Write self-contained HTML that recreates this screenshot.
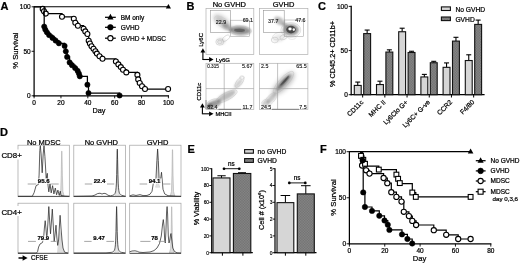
<!DOCTYPE html>
<html><head><meta charset="utf-8"><title>Figure</title>
<style>
html,body{margin:0;padding:0;background:#fff;}
body{width:520px;height:263px;overflow:hidden;font-family:"Liberation Sans",sans-serif;}
svg{display:block;will-change:transform;filter:blur(0.3px);}
text{font-family:"Liberation Sans",sans-serif;}
</style></head><body>
<svg width="520" height="263" viewBox="0 0 520 263">
<defs>
<pattern id="hatch" width="1.6" height="1.6" patternUnits="userSpaceOnUse">
  <rect width="1.6" height="1.6" fill="#6e6e6e"/>
  <rect width="0.8" height="0.8" fill="#8a8a8a"/>
  <rect x="0.8" y="0.8" width="0.8" height="0.8" fill="#8a8a8a"/>
</pattern>
<filter id="b1" x="-50%" y="-50%" width="200%" height="200%"><feGaussianBlur stdDeviation="1.2"/></filter>
<filter id="b2" x="-50%" y="-50%" width="200%" height="200%"><feGaussianBlur stdDeviation="2"/></filter>
<filter id="b05" x="-50%" y="-50%" width="200%" height="200%"><feGaussianBlur stdDeviation="0.6"/></filter>

</defs>
<rect width="520" height="263" fill="#fff"/>
<text x="0.4" y="10.3" font-size="11" text-anchor="start" font-weight="bold" fill="#000" stroke="#000" stroke-width="0.22" >A</text>
<line x1="34.10" y1="6.20" x2="34.10" y2="96.40" stroke="#000" stroke-width="1.25" stroke-linecap="butt"/>
<line x1="33.50" y1="95.80" x2="169.00" y2="95.80" stroke="#000" stroke-width="1.25" stroke-linecap="butt"/>
<line x1="31.60" y1="6.80" x2="34.10" y2="6.80" stroke="#000" stroke-width="0.9" stroke-linecap="butt"/>
<text x="30.700000000000003" y="9.099999999999998" font-size="6.5" text-anchor="end" font-weight="normal" fill="#000" stroke="#000" stroke-width="0.22" >100</text>
<line x1="31.60" y1="51.30" x2="34.10" y2="51.30" stroke="#000" stroke-width="0.9" stroke-linecap="butt"/>
<text x="30.700000000000003" y="53.599999999999994" font-size="6.5" text-anchor="end" font-weight="normal" fill="#000" stroke="#000" stroke-width="0.22" >50</text>
<line x1="31.60" y1="95.80" x2="34.10" y2="95.80" stroke="#000" stroke-width="0.9" stroke-linecap="butt"/>
<text x="30.700000000000003" y="98.1" font-size="6.5" text-anchor="end" font-weight="normal" fill="#000" stroke="#000" stroke-width="0.22" >0</text>
<line x1="34.10" y1="95.80" x2="34.10" y2="98.30" stroke="#000" stroke-width="0.9" stroke-linecap="butt"/>
<text x="34.1" y="104.5" font-size="6.5" text-anchor="middle" font-weight="normal" fill="#000" stroke="#000" stroke-width="0.22" >0</text>
<line x1="60.96" y1="95.80" x2="60.96" y2="98.30" stroke="#000" stroke-width="0.9" stroke-linecap="butt"/>
<text x="60.96" y="104.5" font-size="6.5" text-anchor="middle" font-weight="normal" fill="#000" stroke="#000" stroke-width="0.22" >20</text>
<line x1="87.82" y1="95.80" x2="87.82" y2="98.30" stroke="#000" stroke-width="0.9" stroke-linecap="butt"/>
<text x="87.82" y="104.5" font-size="6.5" text-anchor="middle" font-weight="normal" fill="#000" stroke="#000" stroke-width="0.22" >40</text>
<line x1="114.68" y1="95.80" x2="114.68" y2="98.30" stroke="#000" stroke-width="0.9" stroke-linecap="butt"/>
<text x="114.68" y="104.5" font-size="6.5" text-anchor="middle" font-weight="normal" fill="#000" stroke="#000" stroke-width="0.22" >60</text>
<line x1="141.54" y1="95.80" x2="141.54" y2="98.30" stroke="#000" stroke-width="0.9" stroke-linecap="butt"/>
<text x="141.54" y="104.5" font-size="6.5" text-anchor="middle" font-weight="normal" fill="#000" stroke="#000" stroke-width="0.22" >80</text>
<line x1="168.40" y1="95.80" x2="168.40" y2="98.30" stroke="#000" stroke-width="0.9" stroke-linecap="butt"/>
<text x="168.4" y="104.5" font-size="6.5" text-anchor="middle" font-weight="normal" fill="#000" stroke="#000" stroke-width="0.22" >100</text>
<text x="99.0" y="113.2" font-size="7.3" text-anchor="middle" font-weight="normal" fill="#000" stroke="#000" stroke-width="0.22" >Day</text>
<text x="17.6" y="50.6" font-size="7.7" text-anchor="middle" font-weight="normal" fill="#000" stroke="#000" stroke-width="0.22" transform="rotate(-90 17.6 50.6)" >% Survival</text>
<line x1="34.10" y1="6.80" x2="168.40" y2="6.80" stroke="#000" stroke-width="1.1" stroke-linecap="butt"/>
<path d="M168.4,3.9 L171.0,8.6 L165.8,8.6 Z" fill="#000"/>
<path d="M34.1,6.8 H42.4 V6.8 H42.7 V8.9 H44.0 V11.2 H45.8 V13.6 H62.0 V16.8 H73.8 V18.7 H75.3 V22.7 H77.9 V25.7 H83.6 V28.8 H85.3 V31.4 H87.4 V34.0 H88.7 V40.8 H89.9 V43.5 H91.5 V46.2 H93.5 V48.8 H95.4 V51.3 H96.9 V53.6 H99.5 V56.2 H102.5 V58.8 H115.9 V61.5 H118.4 V64.4 H120.8 V67.1 H123.0 V69.7 H126.3 V72.4 H137.4 V74.9 H138.2 V79.4 H139.7 V83.0 H142.0 V86.2 H145.0 V89.0 H168.1 V89.0" fill="none" stroke="#000" stroke-width="1.25"/>
<circle cx="42.7" cy="8.9" r="2.5" fill="#fff" stroke="#000" stroke-width="1.1"/>
<circle cx="44.0" cy="11.2" r="2.5" fill="#fff" stroke="#000" stroke-width="1.1"/>
<circle cx="45.8" cy="13.6" r="2.5" fill="#fff" stroke="#000" stroke-width="1.1"/>
<circle cx="62.0" cy="16.8" r="2.5" fill="#fff" stroke="#000" stroke-width="1.1"/>
<circle cx="73.8" cy="18.7" r="2.5" fill="#fff" stroke="#000" stroke-width="1.1"/>
<circle cx="75.3" cy="22.7" r="2.5" fill="#fff" stroke="#000" stroke-width="1.1"/>
<circle cx="77.9" cy="25.7" r="2.5" fill="#fff" stroke="#000" stroke-width="1.1"/>
<circle cx="83.6" cy="28.8" r="2.5" fill="#fff" stroke="#000" stroke-width="1.1"/>
<circle cx="85.3" cy="31.4" r="2.5" fill="#fff" stroke="#000" stroke-width="1.1"/>
<circle cx="87.4" cy="34.0" r="2.5" fill="#fff" stroke="#000" stroke-width="1.1"/>
<circle cx="88.7" cy="40.8" r="2.5" fill="#fff" stroke="#000" stroke-width="1.1"/>
<circle cx="89.9" cy="43.5" r="2.5" fill="#fff" stroke="#000" stroke-width="1.1"/>
<circle cx="91.5" cy="46.2" r="2.5" fill="#fff" stroke="#000" stroke-width="1.1"/>
<circle cx="93.5" cy="48.8" r="2.5" fill="#fff" stroke="#000" stroke-width="1.1"/>
<circle cx="95.4" cy="51.3" r="2.5" fill="#fff" stroke="#000" stroke-width="1.1"/>
<circle cx="96.9" cy="53.6" r="2.5" fill="#fff" stroke="#000" stroke-width="1.1"/>
<circle cx="99.5" cy="56.2" r="2.5" fill="#fff" stroke="#000" stroke-width="1.1"/>
<circle cx="102.5" cy="58.8" r="2.5" fill="#fff" stroke="#000" stroke-width="1.1"/>
<circle cx="115.9" cy="61.5" r="2.5" fill="#fff" stroke="#000" stroke-width="1.1"/>
<circle cx="118.4" cy="64.4" r="2.5" fill="#fff" stroke="#000" stroke-width="1.1"/>
<circle cx="120.8" cy="67.1" r="2.5" fill="#fff" stroke="#000" stroke-width="1.1"/>
<circle cx="123.0" cy="69.7" r="2.5" fill="#fff" stroke="#000" stroke-width="1.1"/>
<circle cx="126.3" cy="72.4" r="2.5" fill="#fff" stroke="#000" stroke-width="1.1"/>
<circle cx="137.4" cy="74.9" r="2.5" fill="#fff" stroke="#000" stroke-width="1.1"/>
<circle cx="138.2" cy="79.4" r="2.5" fill="#fff" stroke="#000" stroke-width="1.1"/>
<circle cx="139.7" cy="83.0" r="2.5" fill="#fff" stroke="#000" stroke-width="1.1"/>
<circle cx="142.0" cy="86.2" r="2.5" fill="#fff" stroke="#000" stroke-width="1.1"/>
<circle cx="145.0" cy="89.0" r="2.5" fill="#fff" stroke="#000" stroke-width="1.1"/>
<circle cx="168.1" cy="89.0" r="2.5" fill="#fff" stroke="#000" stroke-width="1.1"/>
<path d="M43.6,6.8 H44.2 V26.6 H45.3 V29.6 H46.9 V32.3 H49.1 V35.1 H52.5 V37.9 H55.6 V40.6 H58.9 V43.3 H64.6 V45.9 H65.8 V51.3 H67.1 V56.9 H69.6 V62.4 H72.0 V65.2 H75.1 V68.0 H77.6 V70.8 H78.9 V73.5 H79.8 V76.3 H87.4 V84.7 H88.5 V93.0 H119.6 V95.5" fill="none" stroke="#000" stroke-width="1.25"/>
<circle cx="44.2" cy="26.6" r="2.6" fill="#000" stroke="#000" stroke-width="0.6"/>
<circle cx="45.3" cy="29.6" r="2.6" fill="#000" stroke="#000" stroke-width="0.6"/>
<circle cx="46.9" cy="32.3" r="2.6" fill="#000" stroke="#000" stroke-width="0.6"/>
<circle cx="49.1" cy="35.1" r="2.6" fill="#000" stroke="#000" stroke-width="0.6"/>
<circle cx="52.5" cy="37.9" r="2.6" fill="#000" stroke="#000" stroke-width="0.6"/>
<circle cx="55.6" cy="40.6" r="2.6" fill="#000" stroke="#000" stroke-width="0.6"/>
<circle cx="58.9" cy="43.3" r="2.6" fill="#000" stroke="#000" stroke-width="0.6"/>
<circle cx="64.6" cy="45.9" r="2.6" fill="#000" stroke="#000" stroke-width="0.6"/>
<circle cx="65.8" cy="51.3" r="2.6" fill="#000" stroke="#000" stroke-width="0.6"/>
<circle cx="67.1" cy="56.9" r="2.6" fill="#000" stroke="#000" stroke-width="0.6"/>
<circle cx="69.6" cy="62.4" r="2.6" fill="#000" stroke="#000" stroke-width="0.6"/>
<circle cx="72.0" cy="65.2" r="2.6" fill="#000" stroke="#000" stroke-width="0.6"/>
<circle cx="75.1" cy="68.0" r="2.6" fill="#000" stroke="#000" stroke-width="0.6"/>
<circle cx="77.6" cy="70.8" r="2.6" fill="#000" stroke="#000" stroke-width="0.6"/>
<circle cx="78.9" cy="73.5" r="2.6" fill="#000" stroke="#000" stroke-width="0.6"/>
<circle cx="79.8" cy="76.3" r="2.6" fill="#000" stroke="#000" stroke-width="0.6"/>
<circle cx="87.4" cy="84.7" r="2.6" fill="#000" stroke="#000" stroke-width="0.6"/>
<circle cx="88.5" cy="93.0" r="2.6" fill="#000" stroke="#000" stroke-width="0.6"/>
<circle cx="119.6" cy="95.5" r="2.6" fill="#000" stroke="#000" stroke-width="0.6"/>
<line x1="105.00" y1="17.30" x2="115.80" y2="17.30" stroke="#000" stroke-width="1.25" stroke-linecap="butt"/>
<path d="M110.4,13.8 L113.5,19.4 L107.3,19.4 Z" fill="#000"/>
<text x="120.7" y="19.8" font-size="6.5" text-anchor="start" font-weight="normal" fill="#000" stroke="#000" stroke-width="0.22" >BM only</text>
<line x1="105.00" y1="27.30" x2="115.80" y2="27.30" stroke="#000" stroke-width="1.25" stroke-linecap="butt"/>
<circle cx="110.4" cy="27.3" r="2.8" fill="#000" stroke="#000" stroke-width="0.6"/>
<text x="120.7" y="29.8" font-size="6.5" text-anchor="start" font-weight="normal" fill="#000" stroke="#000" stroke-width="0.22" >GVHD</text>
<line x1="105.00" y1="38.20" x2="115.80" y2="38.20" stroke="#000" stroke-width="1.25" stroke-linecap="butt"/>
<circle cx="110.4" cy="38.2" r="2.6" fill="#fff" stroke="#000" stroke-width="1.1"/>
<text x="120.7" y="40.7" font-size="6.5" text-anchor="start" font-weight="normal" fill="#000" stroke="#000" stroke-width="0.22" >GVHD + MDSC</text>
<text x="186.4" y="10.0" font-size="11" text-anchor="start" font-weight="bold" fill="#000" stroke="#000" stroke-width="0.22" >B</text>
<text x="229.3" y="6.5" font-size="7.5" text-anchor="middle" font-weight="normal" fill="#000" stroke="#000" stroke-width="0.22" >No GVHD</text>
<text x="283.6" y="6.5" font-size="7.5" text-anchor="middle" font-weight="normal" fill="#000" stroke="#000" stroke-width="0.22" >GVHD</text>
<ellipse cx="240.0" cy="30.5" rx="11.0" ry="4.4" transform="rotate(3 240.0 30.5)" fill="#000" fill-opacity="0.42"  filter="url(#b1)"/>
<ellipse cx="239.5" cy="30.3" rx="5.5" ry="1.8" transform="rotate(3 239.5 30.3)" fill="#000" fill-opacity="0.35"  filter="url(#b05)"/>
<ellipse cx="222.0" cy="21.5" rx="10.0" ry="4.6" transform="rotate(38 222.0 21.5)" fill="#000" fill-opacity="0.24"  filter="url(#b2)"/>
<ellipse cx="227.0" cy="27.0" rx="5.5" ry="3.0" transform="rotate(30 227.0 27.0)" fill="#000" fill-opacity="0.24"  filter="url(#b1)"/>
<ellipse cx="221.0" cy="41.0" rx="4.5" ry="3.5" transform="rotate(0 221.0 41.0)" fill="#000" fill-opacity="0.1"  filter="url(#b1)"/>
<ellipse cx="219.8" cy="42.0" rx="4.0" ry="3.2" transform="rotate(0 219.8 42.0)" fill="none" stroke="#b0b0b0" stroke-width="0.5" stroke-opacity="0.8"/>
<ellipse cx="219.8" cy="42.0" rx="2.2" ry="1.8" transform="rotate(0 219.8 42.0)" fill="none" stroke="#b0b0b0" stroke-width="0.5" stroke-opacity="0.8"/>
<ellipse cx="226.0" cy="38.2" rx="4.2" ry="2.2" transform="rotate(-35 226.0 38.2)" fill="none" stroke="#b0b0b0" stroke-width="0.5" stroke-opacity="0.8"/>
<ellipse cx="240.5" cy="30.6" rx="11.0" ry="4.8" transform="rotate(3 240.5 30.6)" fill="none" stroke="#a0a0a0" stroke-width="0.4" stroke-opacity="0.6"/>
<ellipse cx="222.5" cy="22.5" rx="9.5" ry="4.5" transform="rotate(35 222.5 22.5)" fill="none" stroke="#c0c0c0" stroke-width="0.4" stroke-opacity="0.6"/>
<ellipse cx="290.8" cy="29.8" rx="8.0" ry="5.8" transform="rotate(0 290.8 29.8)" fill="#000" fill-opacity="0.4"  filter="url(#b1)"/>
<ellipse cx="291.0" cy="29.6" rx="4.8" ry="3.8" transform="rotate(0 291.0 29.6)" fill="#000" fill-opacity="0.52"  filter="url(#b05)"/>
<ellipse cx="290.0" cy="29.0" rx="1.7" ry="1.4" transform="rotate(0 290.0 29.0)" fill="#fff" fill-opacity="1"  filter="url(#b05)"/>
<ellipse cx="293.8" cy="29.6" rx="1.2" ry="1.4" transform="rotate(0 293.8 29.6)" fill="#fff" fill-opacity="0.95"  filter="url(#b05)"/>
<ellipse cx="279.5" cy="21.0" rx="6.0" ry="3.4" transform="rotate(35 279.5 21.0)" fill="#000" fill-opacity="0.26"  filter="url(#b1)"/>
<ellipse cx="285.0" cy="25.0" rx="3.0" ry="2.0" transform="rotate(30 285.0 25.0)" fill="#000" fill-opacity="0.25"  filter="url(#b1)"/>
<ellipse cx="279.0" cy="38.0" rx="7.0" ry="4.0" transform="rotate(-15 279.0 38.0)" fill="#000" fill-opacity="0.08"  filter="url(#b1)"/>
<ellipse cx="290.8" cy="30.0" rx="10.0" ry="7.4" transform="rotate(0 290.8 30.0)" fill="none" stroke="#a0a0a0" stroke-width="0.4" stroke-opacity="0.7"/>
<ellipse cx="274.8" cy="40.0" rx="3.5" ry="2.8" transform="rotate(0 274.8 40.0)" fill="none" stroke="#b0b0b0" stroke-width="0.5" stroke-opacity="0.8"/>
<ellipse cx="283.5" cy="37.2" rx="3.8" ry="2.4" transform="rotate(-20 283.5 37.2)" fill="none" stroke="#b0b0b0" stroke-width="0.5" stroke-opacity="0.8"/>
<ellipse cx="279.0" cy="36.0" rx="6.5" ry="3.6" transform="rotate(-15 279.0 36.0)" fill="none" stroke="#c0c0c0" stroke-width="0.4" stroke-opacity="0.8"/>
<ellipse cx="292.0" cy="37.4" rx="4.0" ry="2.0" transform="rotate(0 292.0 37.4)" fill="none" stroke="#c0c0c0" stroke-width="0.4" stroke-opacity="0.8"/>
<ellipse cx="214.0" cy="104.0" rx="7.5" ry="3.6" transform="rotate(-22 214.0 104.0)" fill="#000" fill-opacity="0.4"  filter="url(#b1)"/>
<ellipse cx="209.5" cy="105.5" rx="2.6" ry="2.6" transform="rotate(0 209.5 105.5)" fill="#000" fill-opacity="0.3"  filter="url(#b1)"/>
<ellipse cx="226.5" cy="96.0" rx="10.5" ry="3.4" transform="rotate(-28 226.5 96.0)" fill="#000" fill-opacity="0.26"  filter="url(#b1)"/>
<ellipse cx="238.5" cy="83.5" rx="6.0" ry="2.6" transform="rotate(-50 238.5 83.5)" fill="#000" fill-opacity="0.18"  filter="url(#b1)"/>
<ellipse cx="226.5" cy="96.5" rx="12.0" ry="3.8" transform="rotate(-28 226.5 96.5)" fill="none" stroke="#b0b0b0" stroke-width="0.4" stroke-opacity="0.8"/>
<ellipse cx="239.5" cy="82.0" rx="6.5" ry="2.8" transform="rotate(-52 239.5 82.0)" fill="none" stroke="#b0b0b0" stroke-width="0.4" stroke-opacity="0.8"/>
<ellipse cx="242.0" cy="77.5" rx="2.2" ry="1.8" transform="rotate(0 242.0 77.5)" fill="none" stroke="#b0b0b0" stroke-width="0.4" stroke-opacity="0.8"/>
<ellipse cx="213.0" cy="104.0" rx="8.0" ry="4.5" transform="rotate(-25 213.0 104.0)" fill="none" stroke="#b0b0b0" stroke-width="0.4" stroke-opacity="0.8"/>
<ellipse cx="283.5" cy="83.5" rx="15.0" ry="5.5" transform="rotate(-46 283.5 83.5)" fill="#000" fill-opacity="0.24"  filter="url(#b2)"/>
<ellipse cx="283.5" cy="82.5" rx="10.5" ry="2.2" transform="rotate(-48 283.5 82.5)" fill="#000" fill-opacity="0.4"  filter="url(#b1)"/>
<ellipse cx="284.7" cy="80.8" rx="6.5" ry="1.1" transform="rotate(-48 284.7 80.8)" fill="#000" fill-opacity="0.4"  filter="url(#b05)"/>
<ellipse cx="271.5" cy="98.0" rx="7.0" ry="3.0" transform="rotate(-48 271.5 98.0)" fill="#000" fill-opacity="0.22"  filter="url(#b1)"/>
<ellipse cx="266.0" cy="103.0" rx="4.0" ry="3.0" transform="rotate(-30 266.0 103.0)" fill="#000" fill-opacity="0.18"  filter="url(#b1)"/>
<ellipse cx="283.5" cy="82.5" rx="14.5" ry="4.6" transform="rotate(-48 283.5 82.5)" fill="none" stroke="#b0b0b0" stroke-width="0.4" stroke-opacity="0.8"/>
<ellipse cx="270.5" cy="99.5" rx="9.0" ry="3.8" transform="rotate(-48 270.5 99.5)" fill="none" stroke="#bbbbbb" stroke-width="0.4" stroke-opacity="0.8"/>
<ellipse cx="265.5" cy="102.5" rx="4.0" ry="3.0" transform="rotate(-30 265.5 102.5)" fill="none" stroke="#c0c0c0" stroke-width="0.4" stroke-opacity="0.8"/>
<rect x="206.00" y="8.40" width="47.80" height="46.20" fill="none" stroke="#b0b0b0" stroke-width="0.7" />
<rect x="206.00" y="63.30" width="47.80" height="46.20" fill="none" stroke="#b0b0b0" stroke-width="0.7" />
<rect x="259.60" y="8.40" width="48.30" height="46.20" fill="none" stroke="#b0b0b0" stroke-width="0.7" />
<rect x="259.60" y="63.30" width="48.30" height="46.20" fill="none" stroke="#b0b0b0" stroke-width="0.7" />
<rect x="210.60" y="10.60" width="19.80" height="21.70" fill="none" stroke="#8c8c8c" stroke-width="0.55" />
<rect x="230.40" y="20.20" width="18.90" height="16.20" fill="none" stroke="#a0a0a0" stroke-width="0.55" />
<rect x="263.70" y="10.60" width="20.50" height="21.70" fill="none" stroke="#8c8c8c" stroke-width="0.55" />
<rect x="284.20" y="20.00" width="19.10" height="16.40" fill="none" stroke="#a0a0a0" stroke-width="0.55" />
<line x1="224.20" y1="63.30" x2="224.20" y2="109.50" stroke="#999" stroke-width="0.6" stroke-linecap="butt"/>
<line x1="206.00" y1="88.60" x2="253.80" y2="88.60" stroke="#999" stroke-width="0.6" stroke-linecap="butt"/>
<line x1="277.60" y1="63.30" x2="277.60" y2="109.50" stroke="#999" stroke-width="0.6" stroke-linecap="butt"/>
<line x1="259.60" y1="88.60" x2="307.90" y2="88.60" stroke="#999" stroke-width="0.6" stroke-linecap="butt"/>
<line x1="218.50" y1="109.30" x2="241.00" y2="109.30" stroke="#666" stroke-width="0.9" stroke-linecap="butt"/>
<line x1="272.00" y1="109.30" x2="299.00" y2="109.30" stroke="#777" stroke-width="0.9" stroke-linecap="butt"/>
<line x1="206.00" y1="100.00" x2="206.00" y2="109.00" stroke="#888" stroke-width="0.9" stroke-linecap="butt"/>
<text x="221.0" y="24.2" font-size="5.3" text-anchor="middle" font-weight="normal" fill="#111" stroke="#111" stroke-width="0.12" >22.9</text>
<text x="247.8" y="21.7" font-size="5.3" text-anchor="middle" font-weight="normal" fill="#111" stroke="#111" stroke-width="0.12" >69.1</text>
<text x="273.2" y="23.2" font-size="5.3" text-anchor="middle" font-weight="normal" fill="#111" stroke="#111" stroke-width="0.12" >37.7</text>
<text x="300.4" y="22.1" font-size="5.3" text-anchor="middle" font-weight="normal" fill="#111" stroke="#111" stroke-width="0.12" >47.6</text>
<text x="207.2" y="67.8" font-size="4.7" text-anchor="start" font-weight="normal" fill="#111" stroke="#111" stroke-width="0.12" >0.315</text>
<text x="252.4" y="67.8" font-size="5.3" text-anchor="end" font-weight="normal" fill="#111" stroke="#111" stroke-width="0.12" >5.67</text>
<text x="207.2" y="109.0" font-size="5.3" text-anchor="start" font-weight="normal" fill="#111" stroke="#111" stroke-width="0.12" >82.4</text>
<text x="252.4" y="109.0" font-size="5.3" text-anchor="end" font-weight="normal" fill="#111" stroke="#111" stroke-width="0.12" >11.7</text>
<text x="261.0" y="67.8" font-size="5.3" text-anchor="start" font-weight="normal" fill="#111" stroke="#111" stroke-width="0.12" >2.5</text>
<text x="306.6" y="67.8" font-size="5.3" text-anchor="end" font-weight="normal" fill="#111" stroke="#111" stroke-width="0.12" >65.5</text>
<text x="261.0" y="109.0" font-size="5.3" text-anchor="start" font-weight="normal" fill="#111" stroke="#111" stroke-width="0.12" >24.5</text>
<text x="306.6" y="109.0" font-size="5.3" text-anchor="end" font-weight="normal" fill="#111" stroke="#111" stroke-width="0.12" >7.5</text>
<line x1="202.90" y1="59.50" x2="202.90" y2="51.90" stroke="#000" stroke-width="1.1" stroke-linecap="butt"/>
<line x1="202.40" y1="59.50" x2="209.80" y2="59.50" stroke="#000" stroke-width="1.1" stroke-linecap="butt"/>
<path d="M200.5,52.6 L202.9,48.199999999999996 L205.3,52.6 Z" fill="#000" stroke="none" stroke-width="0" />
<path d="M209.10000000000002,57.1 L213.5,59.5 L209.10000000000002,61.9 Z" fill="#000" stroke="none" stroke-width="0" />
<line x1="202.40" y1="113.80" x2="202.40" y2="106.90" stroke="#000" stroke-width="1.1" stroke-linecap="butt"/>
<line x1="201.90" y1="113.80" x2="209.80" y2="113.80" stroke="#000" stroke-width="1.1" stroke-linecap="butt"/>
<path d="M200.0,107.60000000000001 L202.4,103.2 L204.8,107.60000000000001 Z" fill="#000" stroke="none" stroke-width="0" />
<path d="M209.10000000000002,111.39999999999999 L213.5,113.8 L209.10000000000002,116.2 Z" fill="#000" stroke="none" stroke-width="0" />
<text x="215.8" y="62.0" font-size="6.0" text-anchor="start" font-weight="normal" fill="#000" stroke="#000" stroke-width="0.22" >Ly6G</text>
<text x="215.4" y="116.0" font-size="5.7" text-anchor="start" font-weight="normal" fill="#000" stroke="#000" stroke-width="0.22" >MHCII</text>
<text x="202.6" y="46.8" font-size="6.0" text-anchor="start" font-weight="normal" fill="#000" stroke="#000" stroke-width="0.22" transform="rotate(-90 202.6 46.8)" >Ly6C</text>
<text x="201.4" y="100.6" font-size="6.0" text-anchor="start" font-weight="normal" fill="#000" stroke="#000" stroke-width="0.22" transform="rotate(-90 201.4 100.6)" >CD11c</text>
<text x="318.0" y="10.0" font-size="11" text-anchor="start" font-weight="bold" fill="#000" stroke="#000" stroke-width="0.22" >C</text>
<line x1="351.20" y1="5.80" x2="351.20" y2="95.30" stroke="#000" stroke-width="1.25" stroke-linecap="butt"/>
<line x1="350.60" y1="94.70" x2="484.60" y2="94.70" stroke="#000" stroke-width="1.25" stroke-linecap="butt"/>
<line x1="348.70" y1="6.40" x2="351.20" y2="6.40" stroke="#000" stroke-width="0.9" stroke-linecap="butt"/>
<text x="347.8" y="8.700000000000006" font-size="6.5" text-anchor="end" font-weight="normal" fill="#000" stroke="#000" stroke-width="0.22" >100</text>
<line x1="348.70" y1="50.55" x2="351.20" y2="50.55" stroke="#000" stroke-width="0.9" stroke-linecap="butt"/>
<text x="347.8" y="52.85" font-size="6.5" text-anchor="end" font-weight="normal" fill="#000" stroke="#000" stroke-width="0.22" >50</text>
<line x1="348.70" y1="94.70" x2="351.20" y2="94.70" stroke="#000" stroke-width="0.9" stroke-linecap="butt"/>
<text x="347.8" y="97.0" font-size="6.5" text-anchor="end" font-weight="normal" fill="#000" stroke="#000" stroke-width="0.22" >0</text>
<text x="335.2" y="54.0" font-size="7.3" text-anchor="middle" font-weight="normal" fill="#000" stroke="#000" stroke-width="0.22" transform="rotate(-90 335.2 54.0)" >% CD45.2+ CD11b+</text>
<line x1="357.75" y1="85.43" x2="357.75" y2="82.07" stroke="#000" stroke-width="1.1" stroke-linecap="butt"/>
<line x1="355.25" y1="82.07" x2="360.25" y2="82.07" stroke="#000" stroke-width="1.1" stroke-linecap="butt"/>
<line x1="367.15" y1="33.60" x2="367.15" y2="30.06" stroke="#000" stroke-width="1.1" stroke-linecap="butt"/>
<line x1="364.65" y1="30.06" x2="369.65" y2="30.06" stroke="#000" stroke-width="1.1" stroke-linecap="butt"/>
<rect x="354.30" y="85.43" width="6.90" height="9.27" fill="#d6d6d6" stroke="#111" stroke-width="1.1" />
<rect x="363.70" y="33.60" width="6.90" height="61.10" fill="url(#hatch)" stroke="#111" stroke-width="1.1" />
<line x1="362.65" y1="94.70" x2="362.65" y2="97.50" stroke="#000" stroke-width="1.0" stroke-linecap="butt"/>
<text x="363.84999999999997" y="102.7" font-size="6.7" text-anchor="end" font-weight="normal" fill="#000" stroke="#000" stroke-width="0.22" transform="rotate(-45 363.84999999999997 102.7)" >CD11c</text>
<line x1="379.95" y1="84.55" x2="379.95" y2="81.19" stroke="#000" stroke-width="1.1" stroke-linecap="butt"/>
<line x1="377.45" y1="81.19" x2="382.45" y2="81.19" stroke="#000" stroke-width="1.1" stroke-linecap="butt"/>
<line x1="389.35" y1="52.05" x2="389.35" y2="49.84" stroke="#000" stroke-width="1.1" stroke-linecap="butt"/>
<line x1="386.85" y1="49.84" x2="391.85" y2="49.84" stroke="#000" stroke-width="1.1" stroke-linecap="butt"/>
<rect x="376.50" y="84.55" width="6.90" height="10.15" fill="#d6d6d6" stroke="#111" stroke-width="1.1" />
<rect x="385.90" y="52.05" width="6.90" height="42.65" fill="url(#hatch)" stroke="#111" stroke-width="1.1" />
<line x1="384.85" y1="94.70" x2="384.85" y2="97.50" stroke="#000" stroke-width="1.0" stroke-linecap="butt"/>
<text x="386.04999999999995" y="102.7" font-size="6.7" text-anchor="end" font-weight="normal" fill="#000" stroke="#000" stroke-width="0.22" transform="rotate(-45 386.04999999999995 102.7)" >MHC II</text>
<line x1="402.15" y1="31.74" x2="402.15" y2="28.21" stroke="#000" stroke-width="1.1" stroke-linecap="butt"/>
<line x1="399.65" y1="28.21" x2="404.65" y2="28.21" stroke="#000" stroke-width="1.1" stroke-linecap="butt"/>
<line x1="411.55" y1="52.49" x2="411.55" y2="51.26" stroke="#000" stroke-width="1.1" stroke-linecap="butt"/>
<line x1="409.05" y1="51.26" x2="414.05" y2="51.26" stroke="#000" stroke-width="1.1" stroke-linecap="butt"/>
<rect x="398.70" y="31.74" width="6.90" height="62.96" fill="#d6d6d6" stroke="#111" stroke-width="1.1" />
<rect x="408.10" y="52.49" width="6.90" height="42.21" fill="url(#hatch)" stroke="#111" stroke-width="1.1" />
<line x1="407.05" y1="94.70" x2="407.05" y2="97.50" stroke="#000" stroke-width="1.0" stroke-linecap="butt"/>
<text x="408.24999999999994" y="102.7" font-size="6.7" text-anchor="end" font-weight="normal" fill="#000" stroke="#000" stroke-width="0.22" transform="rotate(-45 408.24999999999994 102.7)" >Ly6Clo G+</text>
<line x1="424.35" y1="76.95" x2="424.35" y2="74.39" stroke="#000" stroke-width="1.1" stroke-linecap="butt"/>
<line x1="421.85" y1="74.39" x2="426.85" y2="74.39" stroke="#000" stroke-width="1.1" stroke-linecap="butt"/>
<line x1="433.75" y1="62.74" x2="433.75" y2="61.32" stroke="#000" stroke-width="1.1" stroke-linecap="butt"/>
<line x1="431.25" y1="61.32" x2="436.25" y2="61.32" stroke="#000" stroke-width="1.1" stroke-linecap="butt"/>
<rect x="420.90" y="76.95" width="6.90" height="17.75" fill="#d6d6d6" stroke="#111" stroke-width="1.1" />
<rect x="430.30" y="62.74" width="6.90" height="31.96" fill="url(#hatch)" stroke="#111" stroke-width="1.1" />
<line x1="429.25" y1="94.70" x2="429.25" y2="97.50" stroke="#000" stroke-width="1.0" stroke-linecap="butt"/>
<text x="430.44999999999993" y="102.7" font-size="6.7" text-anchor="end" font-weight="normal" fill="#000" stroke="#000" stroke-width="0.22" transform="rotate(-45 430.44999999999993 102.7)" >Ly6C+ G-ve</text>
<line x1="446.55" y1="67.33" x2="446.55" y2="62.91" stroke="#000" stroke-width="1.1" stroke-linecap="butt"/>
<line x1="444.05" y1="62.91" x2="449.05" y2="62.91" stroke="#000" stroke-width="1.1" stroke-linecap="butt"/>
<line x1="455.95" y1="41.10" x2="455.95" y2="37.30" stroke="#000" stroke-width="1.1" stroke-linecap="butt"/>
<line x1="453.45" y1="37.30" x2="458.45" y2="37.30" stroke="#000" stroke-width="1.1" stroke-linecap="butt"/>
<rect x="443.10" y="67.33" width="6.90" height="27.37" fill="#d6d6d6" stroke="#111" stroke-width="1.1" />
<rect x="452.50" y="41.10" width="6.90" height="53.60" fill="url(#hatch)" stroke="#111" stroke-width="1.1" />
<line x1="451.45" y1="94.70" x2="451.45" y2="97.50" stroke="#000" stroke-width="1.0" stroke-linecap="butt"/>
<text x="452.65" y="102.7" font-size="6.7" text-anchor="end" font-weight="normal" fill="#000" stroke="#000" stroke-width="0.22" transform="rotate(-45 452.65 102.7)" >CCR2</text>
<line x1="468.75" y1="60.53" x2="468.75" y2="54.79" stroke="#000" stroke-width="1.1" stroke-linecap="butt"/>
<line x1="466.25" y1="54.79" x2="471.25" y2="54.79" stroke="#000" stroke-width="1.1" stroke-linecap="butt"/>
<line x1="478.15" y1="24.41" x2="478.15" y2="20.09" stroke="#000" stroke-width="1.1" stroke-linecap="butt"/>
<line x1="475.65" y1="20.09" x2="480.65" y2="20.09" stroke="#000" stroke-width="1.1" stroke-linecap="butt"/>
<rect x="465.30" y="60.53" width="6.90" height="34.17" fill="#d6d6d6" stroke="#111" stroke-width="1.1" />
<rect x="474.70" y="24.41" width="6.90" height="70.29" fill="url(#hatch)" stroke="#111" stroke-width="1.1" />
<line x1="473.65" y1="94.70" x2="473.65" y2="97.50" stroke="#000" stroke-width="1.0" stroke-linecap="butt"/>
<text x="474.84999999999997" y="102.7" font-size="6.7" text-anchor="end" font-weight="normal" fill="#000" stroke="#000" stroke-width="0.22" transform="rotate(-45 474.84999999999997 102.7)" >F4/80</text>
<rect x="441.40" y="6.90" width="9.00" height="3.60" fill="#d6d6d6" stroke="#111" stroke-width="1.1" />
<text x="455.4" y="11.5" font-size="6.7" text-anchor="start" font-weight="normal" fill="#000" stroke="#000" stroke-width="0.22" >No GVHD</text>
<rect x="441.40" y="17.00" width="9.00" height="3.60" fill="url(#hatch)" stroke="#111" stroke-width="1.1" />
<text x="455.4" y="21.8" font-size="6.7" text-anchor="start" font-weight="normal" fill="#000" stroke="#000" stroke-width="0.22" >GVHD</text>
<text x="0.1" y="135.9" font-size="11" text-anchor="start" font-weight="bold" fill="#000" stroke="#000" stroke-width="0.22" >D</text>
<rect x="18.00" y="145.20" width="51.30" height="51.50" fill="none" stroke="#a0a0a0" stroke-width="0.7" />
<rect x="73.80" y="145.20" width="51.80" height="51.50" fill="none" stroke="#a0a0a0" stroke-width="0.7" />
<rect x="129.70" y="145.20" width="51.30" height="51.50" fill="none" stroke="#a0a0a0" stroke-width="0.7" />
<rect x="18.00" y="203.20" width="50.20" height="50.40" fill="none" stroke="#a0a0a0" stroke-width="0.7" />
<rect x="73.80" y="203.20" width="51.60" height="50.40" fill="none" stroke="#a0a0a0" stroke-width="0.7" />
<rect x="129.70" y="203.20" width="51.30" height="50.40" fill="none" stroke="#a0a0a0" stroke-width="0.7" />
<rect x="0.00" y="149.50" width="23.00" height="10.00" fill="#fff" stroke="none" stroke-width="0" />
<rect x="0.00" y="206.00" width="23.00" height="10.00" fill="#fff" stroke="none" stroke-width="0" />
<text x="43.8" y="144.9" font-size="7.5" text-anchor="middle" font-weight="normal" fill="#000" stroke="#000" stroke-width="0.22" >No MDSC</text>
<text x="101.3" y="144.9" font-size="7.5" text-anchor="middle" font-weight="normal" fill="#000" stroke="#000" stroke-width="0.22" >No GVHD</text>
<text x="157.6" y="144.9" font-size="7.5" text-anchor="middle" font-weight="normal" fill="#000" stroke="#000" stroke-width="0.22" >GVHD</text>
<text x="1.4" y="157.7" font-size="7.9" text-anchor="start" font-weight="normal" fill="#000" stroke="#000" stroke-width="0.22" >CD8+</text>
<text x="1.4" y="214.5" font-size="7.9" text-anchor="start" font-weight="normal" fill="#000" stroke="#000" stroke-width="0.22" >CD4+</text>
<g transform="translate(0 145.7) scale(1 1.0305) translate(0 -145.7)">
<path d="M59.40,194.6 L60.70,190.2 L61.20,175.0 L61.65,151.0 L61.95,151.0 L62.40,175.0 L62.90,190.2 L64.20,194.6 Z" fill="#dcdcdc" stroke="#a8a8a8" stroke-width="0.55" stroke-linejoin="round"/>
<path d="M18.0,194.8 L32.3,194.8 L34.1,191.3 L36.1,184.5 L38.4,183.3 L39.1,174.2 L39.8,150.3 L40.3,145.7 L41.1,153.7 L42.2,172.0 L43.2,153.7 L44.0,145.7 L44.9,156.0 L46.2,177.6 L47.3,172.5 L48.0,184.0 L48.8,190.5 L50.0,182.5 L51.2,191.5 L52.6,184.5 L53.9,192.5 L55.3,186.8 L56.6,193.3 L57.9,188.8 L59.2,193.8 L60.3,189.8 L61.0,194.0 L64.5,194.6 L69.2,194.8" fill="none" stroke="#2a2a2a" stroke-width="0.75" stroke-linejoin="round"/>
<path d="M115.14,194.6 L116.31,190.2 L116.76,175.0 L117.16,151.0 L117.44,151.0 L117.84,175.0 L118.29,190.2 L119.46,194.6 Z" fill="#e6e6e6" stroke="#c8c8c8" stroke-width="0.55" stroke-linejoin="round"/>
<path d="M73.8,194.8 L92.0,194.5 L95.0,193.6 L97.5,192.2 L100.0,191.8 L102.0,192.6 L104.0,191.9 L106.0,192.3 L108.0,193.8 L110.5,194.4 L112.5,193.9 L112.8,193.8 L113.1,193.7 L113.4,193.6 L113.7,193.4 L114.0,193.3 L114.3,193.0 L114.6,192.7 L114.9,192.2 L115.2,191.5 L115.5,190.6 L115.8,189.0 L116.1,186.5 L116.4,182.0 L116.7,173.6 L117.0,159.3 L117.3,149.0 L117.6,159.3 L117.9,173.6 L118.2,182.0 L118.5,186.5 L118.8,189.0 L119.1,190.6 L119.4,191.5 L119.7,192.2 L120.0,192.7 L120.3,193.0 L120.6,193.3 L120.9,193.4 L121.2,193.6 L121.5,193.7 L121.8,193.8 L122.0,193.9 L125.4,194.8" fill="none" stroke="#2a2a2a" stroke-width="0.75" stroke-linejoin="round"/>
<path d="M170.22,194.6 L171.46,190.1 L171.93,174.3 L172.36,149.6 L172.64,149.6 L173.07,174.3 L173.54,190.1 L174.78,194.6 Z" fill="#dcdcdc" stroke="#a8a8a8" stroke-width="0.55" stroke-linejoin="round"/>
<path d="M155.44,186.0 L156.61,182.5 L157.06,170.2 L157.47,151.0 L157.73,151.0 L158.14,170.2 L158.59,182.5 L159.76,186.0 Z" fill="#e2e2e2" stroke="#cfcfcf" stroke-width="0.55" stroke-linejoin="round"/>
<path d="M129.7,194.3 L133.0,193.4 L136.0,194.0 L140.0,193.2 L143.0,194.1 L147.0,194.0 L150.0,192.8 L152.0,190.0 L153.2,183.0 L153.8,178.5 L154.6,181.5 L156.0,177.0 L156.9,160.0 L157.6,148.9 L158.3,160.0 L159.1,178.0 L160.0,181.0 L160.9,176.0 L161.5,171.5 L162.1,178.0 L163.0,188.0 L164.7,192.5 L168.0,194.2 L176.0,194.7 L181.0,194.8" fill="none" stroke="#2a2a2a" stroke-width="0.75" stroke-linejoin="round"/>
</g>
<line x1="27.70" y1="184.00" x2="36.30" y2="184.00" stroke="#909090" stroke-width="0.8" stroke-linecap="butt"/>
<line x1="51.10" y1="184.00" x2="58.70" y2="184.00" stroke="#909090" stroke-width="0.8" stroke-linecap="butt"/>
<rect x="36.70" y="178.40" width="14.00" height="5.40" fill="#fff" stroke="none" stroke-width="0" fill-opacity="0.8"/>
<text x="43.7" y="182.9" font-size="6.0" text-anchor="middle" font-weight="bold" fill="#000" stroke="#000" stroke-width="0.2" >95.6</text>
<line x1="84.80" y1="184.00" x2="92.20" y2="184.00" stroke="#909090" stroke-width="0.8" stroke-linecap="butt"/>
<line x1="107.00" y1="184.00" x2="114.20" y2="184.00" stroke="#909090" stroke-width="0.8" stroke-linecap="butt"/>
<rect x="92.60" y="178.40" width="14.00" height="5.40" fill="#fff" stroke="none" stroke-width="0" fill-opacity="0.8"/>
<text x="99.6" y="182.9" font-size="6.0" text-anchor="middle" font-weight="bold" fill="#000" stroke="#000" stroke-width="0.2" >22.4</text>
<line x1="139.60" y1="184.00" x2="147.20" y2="184.00" stroke="#909090" stroke-width="0.8" stroke-linecap="butt"/>
<line x1="162.00" y1="184.00" x2="170.40" y2="184.00" stroke="#909090" stroke-width="0.8" stroke-linecap="butt"/>
<rect x="147.60" y="178.40" width="14.00" height="5.40" fill="#fff" stroke="none" stroke-width="0" fill-opacity="0.8"/>
<text x="154.6" y="182.9" font-size="6.0" text-anchor="middle" font-weight="bold" fill="#000" stroke="#000" stroke-width="0.2" >94.1</text>
<path d="M57.7,245.4 L58.6,240 L59.1,234 L60.1,230 L61.2,234 L62.0,240 L63.0,248 L64.6,252.2 L66.5,253.0 L57.0,253.0 Z" fill="#dcdcdc" stroke="none" stroke-width="0" />
<path d="M18.0,253.0 L36.5,253.0 L37.6,251.5 L38.6,247.0 L40.0,244.0 L42.4,242.6 L43.6,238.0 L44.4,228.0 L45.2,220.7 L45.9,228.0 L46.8,239.0 L47.8,225.0 L48.8,206.6 L49.6,220.0 L50.5,233.8 L51.4,222.0 L52.3,209.1 L53.3,226.0 L54.2,241.5 L55.1,234.0 L56.0,225.2 L56.8,237.0 L57.7,245.4 L58.6,240.0 L59.3,228.0 L60.1,215.3 L61.0,228.0 L62.0,240.0 L63.0,248.0 L64.6,252.2 L68.2,253.0" fill="none" stroke="#2a2a2a" stroke-width="0.75" stroke-linejoin="round"/>
<line x1="28.00" y1="241.40" x2="35.90" y2="241.40" stroke="#909090" stroke-width="0.8" stroke-linecap="butt"/>
<line x1="50.70" y1="241.40" x2="56.40" y2="241.40" stroke="#909090" stroke-width="0.8" stroke-linecap="butt"/>
<rect x="36.30" y="235.80" width="14.00" height="5.40" fill="#fff" stroke="none" stroke-width="0" fill-opacity="0.8"/>
<text x="43.3" y="240.3" font-size="6.0" text-anchor="middle" font-weight="bold" fill="#000" stroke="#000" stroke-width="0.2" >79.9</text>
<path d="M114.44,253.0 L115.61,248.6 L116.06,233.2 L116.46,209.0 L116.73,209.0 L117.14,233.2 L117.59,248.6 L118.76,253.0 Z" fill="#e6e6e6" stroke="#c8c8c8" stroke-width="0.55" stroke-linejoin="round"/>
<path d="M73.8,253.0 L106.0,252.9 L110.0,252.5 L111.8,252.3 L112.1,252.2 L112.4,252.1 L112.7,252.0 L113.0,251.8 L113.3,251.6 L113.6,251.4 L113.9,251.0 L114.2,250.6 L114.5,249.9 L114.8,248.9 L115.1,247.3 L115.4,244.8 L115.7,240.2 L116.0,231.6 L116.3,217.1 L116.6,206.6 L116.9,217.1 L117.2,231.6 L117.5,240.2 L117.8,244.8 L118.1,247.3 L118.4,248.9 L118.7,249.9 L119.0,250.6 L119.3,251.0 L119.6,251.4 L119.9,251.6 L120.2,251.8 L120.5,252.0 L120.8,252.1 L121.1,252.2 L121.3,252.3 L125.4,253.0" fill="none" stroke="#2a2a2a" stroke-width="0.75" stroke-linejoin="round"/>
<line x1="84.20" y1="241.40" x2="91.60" y2="241.40" stroke="#909090" stroke-width="0.8" stroke-linecap="butt"/>
<line x1="106.40" y1="241.40" x2="114.00" y2="241.40" stroke="#909090" stroke-width="0.8" stroke-linecap="butt"/>
<rect x="92.00" y="235.80" width="14.00" height="5.40" fill="#fff" stroke="none" stroke-width="0" fill-opacity="0.8"/>
<text x="99.0" y="240.3" font-size="6.0" text-anchor="middle" font-weight="bold" fill="#000" stroke="#000" stroke-width="0.2" >9.47</text>
<path d="M169.42,253.0 L170.66,248.4 L171.13,232.2 L171.56,206.8 L171.84,206.8 L172.27,232.2 L172.74,248.4 L173.98,253.0 Z" fill="#dcdcdc" stroke="#a8a8a8" stroke-width="0.55" stroke-linejoin="round"/>
<path d="M129.7,251.8 L132.0,251.0 L135.0,250.8 L137.5,251.4 L139.0,252.2 L143.0,252.5 L150.0,252.0 L154.0,250.6 L157.0,248.0 L159.5,243.5 L161.3,236.0 L162.6,224.0 L163.3,219.6 L164.0,226.0 L164.7,240.0 L165.3,243.0 L165.9,232.0 L166.6,212.0 L167.1,206.6 L167.6,214.0 L168.3,236.0 L169.0,243.0 L169.8,240.0 L170.5,235.0 L171.0,233.5 L171.8,240.0 L172.8,248.0 L174.5,251.5 L177.0,252.8 L181.0,253.0" fill="none" stroke="#2a2a2a" stroke-width="0.75" stroke-linejoin="round"/>
<line x1="140.30" y1="241.40" x2="150.50" y2="241.40" stroke="#909090" stroke-width="0.8" stroke-linecap="butt"/>
<line x1="158.70" y1="241.40" x2="165.60" y2="241.40" stroke="#909090" stroke-width="0.8" stroke-linecap="butt"/>
<rect x="150.90" y="235.80" width="7.40" height="5.40" fill="#fff" stroke="none" stroke-width="0" fill-opacity="0.8"/>
<text x="154.6" y="240.3" font-size="6.0" text-anchor="middle" font-weight="bold" fill="#000" stroke="#000" stroke-width="0.2" >78</text>
<line x1="18.00" y1="196.40" x2="69.30" y2="196.40" stroke="#333" stroke-width="0.8" stroke-linecap="butt"/>
<line x1="73.80" y1="196.40" x2="125.60" y2="196.40" stroke="#333" stroke-width="0.8" stroke-linecap="butt"/>
<line x1="129.70" y1="196.40" x2="181.00" y2="196.40" stroke="#333" stroke-width="0.8" stroke-linecap="butt"/>
<line x1="18.00" y1="253.30" x2="68.20" y2="253.30" stroke="#333" stroke-width="0.8" stroke-linecap="butt"/>
<line x1="73.80" y1="253.30" x2="125.40" y2="253.30" stroke="#333" stroke-width="0.8" stroke-linecap="butt"/>
<line x1="129.70" y1="253.30" x2="181.00" y2="253.30" stroke="#333" stroke-width="0.8" stroke-linecap="butt"/>
<line x1="18.50" y1="258.00" x2="24.00" y2="258.00" stroke="#000" stroke-width="1.5" stroke-linecap="butt"/>
<path d="M22.6,255.2 L27.6,258.0 L22.6,260.8 Z" fill="#000" stroke="none" stroke-width="0" />
<text x="30.9" y="260.4" font-size="6.3" text-anchor="start" font-weight="normal" fill="#000" stroke="#000" stroke-width="0.22" >CFSE</text>
<text x="187.6" y="153.2" font-size="11" text-anchor="start" font-weight="bold" fill="#000" stroke="#000" stroke-width="0.22" >E</text>
<rect x="244.60" y="149.60" width="8.80" height="3.60" fill="#d6d6d6" stroke="#111" stroke-width="1.1" />
<text x="257.6" y="154.0" font-size="6.7" text-anchor="start" font-weight="normal" fill="#000" stroke="#000" stroke-width="0.22" >no GVHD</text>
<rect x="244.60" y="158.60" width="8.80" height="3.80" fill="url(#hatch)" stroke="#111" stroke-width="1.1" />
<text x="257.6" y="163.2" font-size="6.7" text-anchor="start" font-weight="normal" fill="#000" stroke="#000" stroke-width="0.22" >GVHD</text>
<line x1="211.70" y1="168.20" x2="211.70" y2="253.30" stroke="#000" stroke-width="1.2" stroke-linecap="butt"/>
<line x1="211.10" y1="252.70" x2="252.80" y2="252.70" stroke="#000" stroke-width="1.2" stroke-linecap="butt"/>
<line x1="209.30" y1="252.70" x2="211.70" y2="252.70" stroke="#000" stroke-width="0.9" stroke-linecap="butt"/>
<text x="209.1" y="254.5" font-size="4.9" text-anchor="end" font-weight="normal" fill="#000" stroke="#000" stroke-width="0.15" >0</text>
<line x1="209.30" y1="235.90" x2="211.70" y2="235.90" stroke="#000" stroke-width="0.9" stroke-linecap="butt"/>
<text x="209.1" y="237.7" font-size="4.9" text-anchor="end" font-weight="normal" fill="#000" stroke="#000" stroke-width="0.15" >20</text>
<line x1="209.30" y1="219.10" x2="211.70" y2="219.10" stroke="#000" stroke-width="0.9" stroke-linecap="butt"/>
<text x="209.1" y="220.9" font-size="4.9" text-anchor="end" font-weight="normal" fill="#000" stroke="#000" stroke-width="0.15" >40</text>
<line x1="209.30" y1="202.30" x2="211.70" y2="202.30" stroke="#000" stroke-width="0.9" stroke-linecap="butt"/>
<text x="209.1" y="204.1" font-size="4.9" text-anchor="end" font-weight="normal" fill="#000" stroke="#000" stroke-width="0.15" >60</text>
<line x1="209.30" y1="185.50" x2="211.70" y2="185.50" stroke="#000" stroke-width="0.9" stroke-linecap="butt"/>
<text x="209.1" y="187.3" font-size="4.9" text-anchor="end" font-weight="normal" fill="#000" stroke="#000" stroke-width="0.15" >80</text>
<line x1="209.30" y1="168.70" x2="211.70" y2="168.70" stroke="#000" stroke-width="0.9" stroke-linecap="butt"/>
<text x="209.1" y="170.5" font-size="4.9" text-anchor="end" font-weight="normal" fill="#000" stroke="#000" stroke-width="0.15" >100</text>
<text x="199.3" y="208.6" font-size="7.3" text-anchor="middle" font-weight="normal" fill="#000" stroke="#000" stroke-width="0.22" transform="rotate(-90 199.3 208.6)" >% Viability</text>
<line x1="221.50" y1="177.94" x2="221.50" y2="175.76" stroke="#000" stroke-width="1.0" stroke-linecap="butt"/>
<line x1="217.40" y1="175.76" x2="225.70" y2="175.76" stroke="#000" stroke-width="1.0" stroke-linecap="butt"/>
<line x1="242.00" y1="173.49" x2="242.00" y2="172.73" stroke="#000" stroke-width="1.0" stroke-linecap="butt"/>
<line x1="238.00" y1="172.73" x2="246.00" y2="172.73" stroke="#000" stroke-width="1.0" stroke-linecap="butt"/>
<rect x="213.00" y="177.94" width="17.00" height="74.76" fill="#d6d6d6" stroke="#111" stroke-width="1.1" />
<rect x="233.40" y="173.49" width="17.40" height="79.21" fill="url(#hatch)" stroke="#111" stroke-width="1.1" />
<line x1="222.40" y1="252.70" x2="222.40" y2="255.70" stroke="#000" stroke-width="1.0" stroke-linecap="butt"/>
<line x1="242.90" y1="252.70" x2="242.90" y2="255.70" stroke="#000" stroke-width="1.0" stroke-linecap="butt"/>
<line x1="224.00" y1="168.70" x2="239.30" y2="168.70" stroke="#000" stroke-width="0.9" stroke-linecap="butt"/>
<circle cx="224.0" cy="168.7" r="1.3" fill="#000" stroke="#000" stroke-width="0.1"/>
<circle cx="239.3" cy="168.7" r="1.3" fill="#000" stroke="#000" stroke-width="0.1"/>
<text x="231.4" y="166.4" font-size="6.3" text-anchor="middle" font-weight="normal" fill="#000" stroke="#000" stroke-width="0.22" >ns</text>
<line x1="275.00" y1="168.20" x2="275.00" y2="253.30" stroke="#000" stroke-width="1.2" stroke-linecap="butt"/>
<line x1="274.40" y1="252.70" x2="316.50" y2="252.70" stroke="#000" stroke-width="1.2" stroke-linecap="butt"/>
<line x1="272.60" y1="252.70" x2="275.00" y2="252.70" stroke="#000" stroke-width="0.9" stroke-linecap="butt"/>
<text x="272.4" y="254.5" font-size="4.9" text-anchor="end" font-weight="normal" fill="#000" stroke="#000" stroke-width="0.15" >0</text>
<line x1="272.60" y1="235.90" x2="275.00" y2="235.90" stroke="#000" stroke-width="0.9" stroke-linecap="butt"/>
<text x="272.4" y="237.7" font-size="4.9" text-anchor="end" font-weight="normal" fill="#000" stroke="#000" stroke-width="0.15" >1</text>
<line x1="272.60" y1="219.10" x2="275.00" y2="219.10" stroke="#000" stroke-width="0.9" stroke-linecap="butt"/>
<text x="272.4" y="220.9" font-size="4.9" text-anchor="end" font-weight="normal" fill="#000" stroke="#000" stroke-width="0.15" >2</text>
<line x1="272.60" y1="202.30" x2="275.00" y2="202.30" stroke="#000" stroke-width="0.9" stroke-linecap="butt"/>
<text x="272.4" y="204.1" font-size="4.9" text-anchor="end" font-weight="normal" fill="#000" stroke="#000" stroke-width="0.15" >3</text>
<line x1="272.60" y1="185.50" x2="275.00" y2="185.50" stroke="#000" stroke-width="0.9" stroke-linecap="butt"/>
<text x="272.4" y="187.3" font-size="4.9" text-anchor="end" font-weight="normal" fill="#000" stroke="#000" stroke-width="0.15" >4</text>
<line x1="272.60" y1="168.70" x2="275.00" y2="168.70" stroke="#000" stroke-width="0.9" stroke-linecap="butt"/>
<text x="272.4" y="170.5" font-size="4.9" text-anchor="end" font-weight="normal" fill="#000" stroke="#000" stroke-width="0.15" >5</text>
<text x="264.1" y="210.0" font-size="7.3" text-anchor="middle" font-weight="normal" fill="#000" stroke="#000" stroke-width="0.22" transform="rotate(-90 264.1 210.0)" >Cell # (x10<tspan font-size="4.4" dy="-2.6">6</tspan><tspan dy="2.6">)</tspan></text>
<line x1="285.40" y1="202.64" x2="285.40" y2="195.50" stroke="#000" stroke-width="1.0" stroke-linecap="butt"/>
<line x1="280.60" y1="195.50" x2="290.20" y2="195.50" stroke="#000" stroke-width="1.0" stroke-linecap="butt"/>
<line x1="305.80" y1="193.90" x2="305.80" y2="185.70" stroke="#000" stroke-width="1.0" stroke-linecap="butt"/>
<line x1="301.00" y1="185.70" x2="310.60" y2="185.70" stroke="#000" stroke-width="1.0" stroke-linecap="butt"/>
<rect x="277.00" y="202.64" width="16.80" height="50.06" fill="#d6d6d6" stroke="#111" stroke-width="1.1" />
<rect x="297.30" y="193.90" width="17.00" height="58.80" fill="url(#hatch)" stroke="#111" stroke-width="1.1" />
<line x1="285.40" y1="252.70" x2="285.40" y2="255.70" stroke="#000" stroke-width="1.0" stroke-linecap="butt"/>
<line x1="305.80" y1="252.70" x2="305.80" y2="255.70" stroke="#000" stroke-width="1.0" stroke-linecap="butt"/>
<line x1="289.30" y1="182.90" x2="305.30" y2="182.90" stroke="#000" stroke-width="0.9" stroke-linecap="butt"/>
<circle cx="289.3" cy="182.9" r="1.3" fill="#000" stroke="#000" stroke-width="0.1"/>
<circle cx="305.3" cy="182.9" r="1.3" fill="#000" stroke="#000" stroke-width="0.1"/>
<text x="297.0" y="180.3" font-size="6.3" text-anchor="middle" font-weight="normal" fill="#000" stroke="#000" stroke-width="0.22" >ns</text>
<text x="320.0" y="153.4" font-size="11" text-anchor="start" font-weight="bold" fill="#000" stroke="#000" stroke-width="0.22" >F</text>
<line x1="349.40" y1="151.10" x2="349.40" y2="244.40" stroke="#000" stroke-width="1.25" stroke-linecap="butt"/>
<line x1="348.80" y1="243.80" x2="491.40" y2="243.80" stroke="#000" stroke-width="1.25" stroke-linecap="butt"/>
<line x1="346.60" y1="151.70" x2="349.40" y2="151.70" stroke="#000" stroke-width="0.9" stroke-linecap="butt"/>
<text x="346.0" y="154.0" font-size="6.5" text-anchor="end" font-weight="normal" fill="#000" stroke="#000" stroke-width="0.22" >100</text>
<line x1="346.60" y1="197.75" x2="349.40" y2="197.75" stroke="#000" stroke-width="0.9" stroke-linecap="butt"/>
<text x="346.0" y="200.05" font-size="6.5" text-anchor="end" font-weight="normal" fill="#000" stroke="#000" stroke-width="0.22" >50</text>
<line x1="346.60" y1="243.80" x2="349.40" y2="243.80" stroke="#000" stroke-width="0.9" stroke-linecap="butt"/>
<text x="346.0" y="246.10000000000002" font-size="6.5" text-anchor="end" font-weight="normal" fill="#000" stroke="#000" stroke-width="0.22" >0</text>
<line x1="349.40" y1="243.80" x2="349.40" y2="246.60" stroke="#000" stroke-width="0.9" stroke-linecap="butt"/>
<text x="349.4" y="253.10000000000002" font-size="6.5" text-anchor="middle" font-weight="normal" fill="#000" stroke="#000" stroke-width="0.22" >0</text>
<line x1="384.75" y1="243.80" x2="384.75" y2="246.60" stroke="#000" stroke-width="0.9" stroke-linecap="butt"/>
<text x="384.75" y="253.10000000000002" font-size="6.5" text-anchor="middle" font-weight="normal" fill="#000" stroke="#000" stroke-width="0.22" >20</text>
<line x1="420.10" y1="243.80" x2="420.10" y2="246.60" stroke="#000" stroke-width="0.9" stroke-linecap="butt"/>
<text x="420.1" y="253.10000000000002" font-size="6.5" text-anchor="middle" font-weight="normal" fill="#000" stroke="#000" stroke-width="0.22" >40</text>
<line x1="455.45" y1="243.80" x2="455.45" y2="246.60" stroke="#000" stroke-width="0.9" stroke-linecap="butt"/>
<text x="455.45" y="253.10000000000002" font-size="6.5" text-anchor="middle" font-weight="normal" fill="#000" stroke="#000" stroke-width="0.22" >60</text>
<line x1="490.80" y1="243.80" x2="490.80" y2="246.60" stroke="#000" stroke-width="0.9" stroke-linecap="butt"/>
<text x="490.8" y="253.10000000000002" font-size="6.5" text-anchor="middle" font-weight="normal" fill="#000" stroke="#000" stroke-width="0.22" >80</text>
<text x="419.5" y="261.0" font-size="7.6" text-anchor="middle" font-weight="normal" fill="#000" stroke="#000" stroke-width="0.22" >Day</text>
<text x="335.6" y="197.5" font-size="7.7" text-anchor="middle" font-weight="normal" fill="#000" stroke="#000" stroke-width="0.22" transform="rotate(-90 335.6 197.5)" >% Survival</text>
<line x1="349.40" y1="151.70" x2="470.60" y2="151.70" stroke="#000" stroke-width="1.25" stroke-linecap="butt"/>
<path d="M470.6,148.5 L473.4,153.5 L467.8,153.5 Z" fill="#000"/>
<path d="M360.6,151.7 V155.8 H363.3 V159.8 H365.0 V166.1 H378.8 V169.6 H396.4 V174.6 H398.1 V178.8 H399.8 V183.6 H412.3 V192.5 H415.8 V196.9 H470.6" fill="none" stroke="#000" stroke-width="1.2" />
<path d="M361.2,151.7 H361.4 V156.4 H362.1 V165.5 H366.1 V170.3 H369.5 V173.6 H383.6 V178.0 H387.3 V183.2 H391.3 V192.2 H396.4 V196.9 H401.5 V201.6 H403.8 V211.8 H408.9 V216.1 H412.3 V220.9 H416.1 V225.0 H433.8 V230.2 H446.2 V234.8 H458.2 V239.0 H470.6 V239.0" fill="none" stroke="#000" stroke-width="1.2"/>
<path d="M362.4,151.7 H362.6 V160.4 H363.2 V192.4 H364.9 V207.0 H372.0 V210.9 H379.3 V215.8 H384.5 V220.5 H387.8 V224.8 H389.4 V229.9 H402.0 V234.4 H407.4 V239.0 H412.2 V243.5" fill="none" stroke="#000" stroke-width="1.2"/>
<circle cx="361.4" cy="156.4" r="2.6" fill="#fff" stroke="#000" stroke-width="1.1"/>
<circle cx="362.1" cy="165.5" r="2.6" fill="#fff" stroke="#000" stroke-width="1.1"/>
<circle cx="366.1" cy="170.3" r="2.6" fill="#fff" stroke="#000" stroke-width="1.1"/>
<circle cx="369.5" cy="173.6" r="2.6" fill="#fff" stroke="#000" stroke-width="1.1"/>
<circle cx="383.6" cy="178.0" r="2.6" fill="#fff" stroke="#000" stroke-width="1.1"/>
<circle cx="387.3" cy="183.2" r="2.6" fill="#fff" stroke="#000" stroke-width="1.1"/>
<circle cx="391.3" cy="192.2" r="2.6" fill="#fff" stroke="#000" stroke-width="1.1"/>
<circle cx="396.4" cy="196.9" r="2.6" fill="#fff" stroke="#000" stroke-width="1.1"/>
<circle cx="401.5" cy="201.6" r="2.6" fill="#fff" stroke="#000" stroke-width="1.1"/>
<circle cx="403.8" cy="211.8" r="2.6" fill="#fff" stroke="#000" stroke-width="1.1"/>
<circle cx="408.9" cy="216.1" r="2.6" fill="#fff" stroke="#000" stroke-width="1.1"/>
<circle cx="412.3" cy="220.9" r="2.6" fill="#fff" stroke="#000" stroke-width="1.1"/>
<circle cx="416.1" cy="225.0" r="2.6" fill="#fff" stroke="#000" stroke-width="1.1"/>
<circle cx="433.8" cy="230.2" r="2.6" fill="#fff" stroke="#000" stroke-width="1.1"/>
<circle cx="446.2" cy="234.8" r="2.6" fill="#fff" stroke="#000" stroke-width="1.1"/>
<circle cx="458.2" cy="239.0" r="2.6" fill="#fff" stroke="#000" stroke-width="1.1"/>
<circle cx="470.6" cy="239.0" r="2.6" fill="#fff" stroke="#000" stroke-width="1.1"/>
<rect x="358.6" y="153.4" width="4.8" height="4.8" fill="#fff" stroke="#000" stroke-width="1.1"/>
<rect x="360.9" y="157.4" width="4.8" height="4.8" fill="#fff" stroke="#000" stroke-width="1.1"/>
<rect x="362.6" y="161.4" width="4.8" height="4.8" fill="#fff" stroke="#000" stroke-width="1.1"/>
<rect x="376.4" y="167.2" width="4.8" height="4.8" fill="#fff" stroke="#000" stroke-width="1.1"/>
<rect x="394.0" y="172.2" width="4.8" height="4.8" fill="#fff" stroke="#000" stroke-width="1.1"/>
<rect x="395.7" y="176.4" width="4.8" height="4.8" fill="#fff" stroke="#000" stroke-width="1.1"/>
<rect x="397.4" y="180.7" width="4.8" height="4.8" fill="#fff" stroke="#000" stroke-width="1.1"/>
<rect x="409.9" y="190.1" width="4.8" height="4.8" fill="#fff" stroke="#000" stroke-width="1.1"/>
<rect x="413.4" y="194.5" width="4.8" height="4.8" fill="#fff" stroke="#000" stroke-width="1.1"/>
<rect x="468.2" y="194.5" width="4.8" height="4.8" fill="#fff" stroke="#000" stroke-width="1.1"/>
<circle cx="362.6" cy="160.4" r="2.7" fill="#000" stroke="#000" stroke-width="0.5"/>
<circle cx="363.2" cy="192.4" r="2.7" fill="#000" stroke="#000" stroke-width="0.5"/>
<circle cx="364.9" cy="207.0" r="2.7" fill="#000" stroke="#000" stroke-width="0.5"/>
<circle cx="372.0" cy="210.9" r="2.7" fill="#000" stroke="#000" stroke-width="0.5"/>
<circle cx="379.3" cy="215.8" r="2.7" fill="#000" stroke="#000" stroke-width="0.5"/>
<circle cx="384.5" cy="220.5" r="2.7" fill="#000" stroke="#000" stroke-width="0.5"/>
<circle cx="387.8" cy="224.8" r="2.7" fill="#000" stroke="#000" stroke-width="0.5"/>
<circle cx="389.4" cy="229.9" r="2.7" fill="#000" stroke="#000" stroke-width="0.5"/>
<circle cx="402.0" cy="234.4" r="2.7" fill="#000" stroke="#000" stroke-width="0.5"/>
<circle cx="407.4" cy="239.0" r="2.7" fill="#000" stroke="#000" stroke-width="0.5"/>
<circle cx="412.2" cy="243.5" r="2.7" fill="#000" stroke="#000" stroke-width="0.5"/>
<line x1="475.80" y1="160.70" x2="485.60" y2="160.70" stroke="#000" stroke-width="1.25" stroke-linecap="butt"/>
<path d="M480.6,157.2 L483.7,162.8 L477.5,162.8 Z" fill="#000"/>
<text x="490.6" y="163.0" font-size="6.5" text-anchor="start" font-weight="normal" fill="#000" stroke="#000" stroke-width="0.22" >No GVHD</text>
<line x1="475.80" y1="170.90" x2="485.60" y2="170.90" stroke="#000" stroke-width="1.25" stroke-linecap="butt"/>
<circle cx="480.6" cy="170.9" r="2.8" fill="#000" stroke="#000" stroke-width="0.6"/>
<text x="490.6" y="173.20000000000002" font-size="6.5" text-anchor="start" font-weight="normal" fill="#000" stroke="#000" stroke-width="0.22" >GVHD</text>
<line x1="475.80" y1="181.00" x2="485.60" y2="181.00" stroke="#000" stroke-width="1.25" stroke-linecap="butt"/>
<circle cx="480.6" cy="181.0" r="2.6" fill="#fff" stroke="#000" stroke-width="1.1"/>
<text x="490.6" y="183.3" font-size="6.5" text-anchor="start" font-weight="normal" fill="#000" stroke="#000" stroke-width="0.22" >MDSC</text>
<line x1="475.80" y1="191.70" x2="485.60" y2="191.70" stroke="#000" stroke-width="1.25" stroke-linecap="butt"/>
<rect x="478.1" y="189.2" width="5.0" height="5.0" fill="#fff" stroke="#000" stroke-width="1.1"/>
<text x="490.6" y="194.0" font-size="6.5" text-anchor="start" font-weight="normal" fill="#000" stroke="#000" stroke-width="0.22" >MDSC</text>
<text x="492.6" y="201.2" font-size="6.2" text-anchor="start" font-weight="normal" fill="#000" stroke="#000" stroke-width="0.22" >day 0,3,6</text>
</svg>
</body></html>
